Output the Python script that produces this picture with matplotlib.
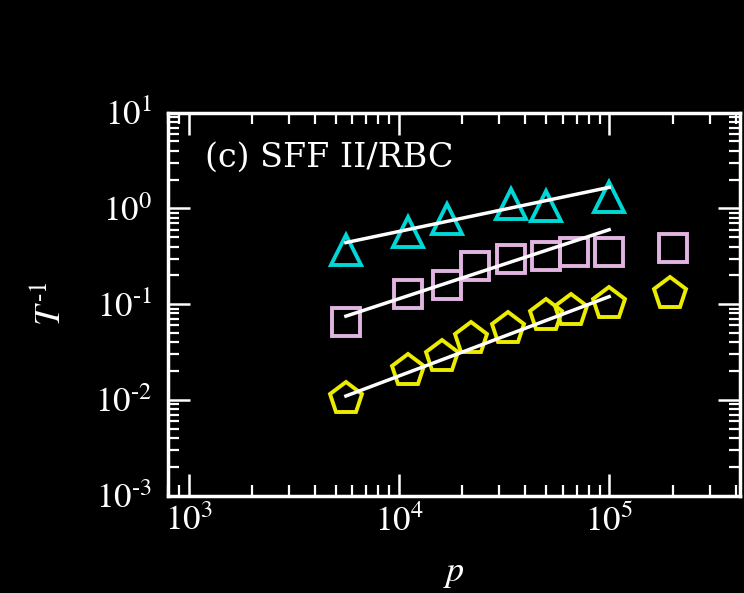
#!/usr/bin/env python3
# plot.py
"""
Inverse lifetime T^-1 against p on log-log axes, panel (c) SFF II/RBC,
white on black, with power-law fit lines.
"""
import numpy as np
import matplotlib
matplotlib.use("Agg")
import matplotlib.pyplot as plt
from matplotlib.ticker import LogLocator, NullFormatter, FuncFormatter

# data
x_tri = [5.6e3, 1.1e4, 1.7e4, 3.4e4, 5.0e4, 1.0e5]
y_tri = [0.37, 0.57, 0.77, 1.10, 1.05, 1.33]

x_sq = [5.6e3, 1.1e4, 1.7e4, 2.3e4, 3.4e4, 5.0e4, 6.8e4, 1.0e5, 2.0e5]
y_sq = [0.065, 0.127, 0.16, 0.25, 0.30, 0.32, 0.35, 0.35, 0.39]

x_pent = [5.6e3, 1.1e4, 1.6e4, 2.2e4, 3.3e4, 5.0e4, 6.6e4, 1.0e5, 1.95e5]
y_pent = [0.0102, 0.020, 0.028, 0.043, 0.055, 0.075, 0.085, 0.100, 0.127]

# fit line end points
fit_x = [5.6e3, 1.0e5]
fit_tri = [0.44, 1.66]
fit_sq = [0.075, 0.60]
fit_pent = [0.011, 0.12]

plt.rcParams["font.family"] = ["Liberation Serif", "DejaVu Serif"]
plt.rcParams["mathtext.fontset"] = "stix"


def pow_label(val, pos):
    # short hyphen in the exponent, like the original figure
    e = int(round(np.log10(val)))
    if e < 0:
        return r"$10^{\text{-}%d}$" % (-e)
    return r"$10^{%d}$" % e


fig = plt.figure(figsize=(7.44, 5.93), dpi=100, facecolor="black")
ax = fig.add_axes([0.226, 0.164, 0.769, 0.646], facecolor="black")

marker_kw = dict(linestyle="none", markerfacecolor="none", markeredgewidth=2.8)
ax.plot(x_tri, y_tri, marker="^", markersize=22, markeredgecolor="#00d8d8", **marker_kw)
ax.plot(x_sq, y_sq, marker="s", markersize=20, markeredgecolor="#e2b4e2", **marker_kw)
ax.plot(x_pent, y_pent, marker="p", markersize=24, markeredgecolor="#ecec00", **marker_kw)

for fit_y in (fit_tri, fit_sq, fit_pent):
    ax.plot(fit_x, fit_y, color="white", linewidth=2.5, zorder=5)

ax.set_xscale("log")
ax.set_yscale("log")
ax.set_xlim(8e2, 4.2e5)
ax.set_ylim(1e-3, 1e1)

ax.xaxis.set_major_locator(LogLocator(base=10, numticks=10))
ax.yaxis.set_major_locator(LogLocator(base=10, numticks=10))
ax.xaxis.set_minor_locator(LogLocator(base=10, subs=range(2, 10), numticks=20))
ax.yaxis.set_minor_locator(LogLocator(base=10, subs=range(2, 10), numticks=20))
ax.xaxis.set_major_formatter(FuncFormatter(pow_label))
ax.yaxis.set_major_formatter(FuncFormatter(pow_label))
ax.xaxis.set_minor_formatter(NullFormatter())
ax.yaxis.set_minor_formatter(NullFormatter())

ax.tick_params(which="both", direction="in", top=True, right=True, colors="white")
ax.tick_params(which="major", length=16, width=1.8, labelsize=25)
ax.tick_params(axis="x", which="major", pad=7)
ax.tick_params(axis="y", which="major", pad=12)
ax.tick_params(which="minor", length=8, width=1.6)

for spine in ax.spines.values():
    spine.set_color("white")
    spine.set_linewidth(2.5)

ax.set_xlabel(r"$p$", color="white", fontsize=26, labelpad=13)
ax.set_ylabel(r"$T^{\text{-}1}$", color="white", fontsize=26, labelpad=19)

ax.text(0.065, 0.86, "(c) SFF II/RBC", transform=ax.transAxes, color="white",
        fontsize=24, family="DejaVu Serif")

fig.savefig("out.png", dpi=100, facecolor="black")
